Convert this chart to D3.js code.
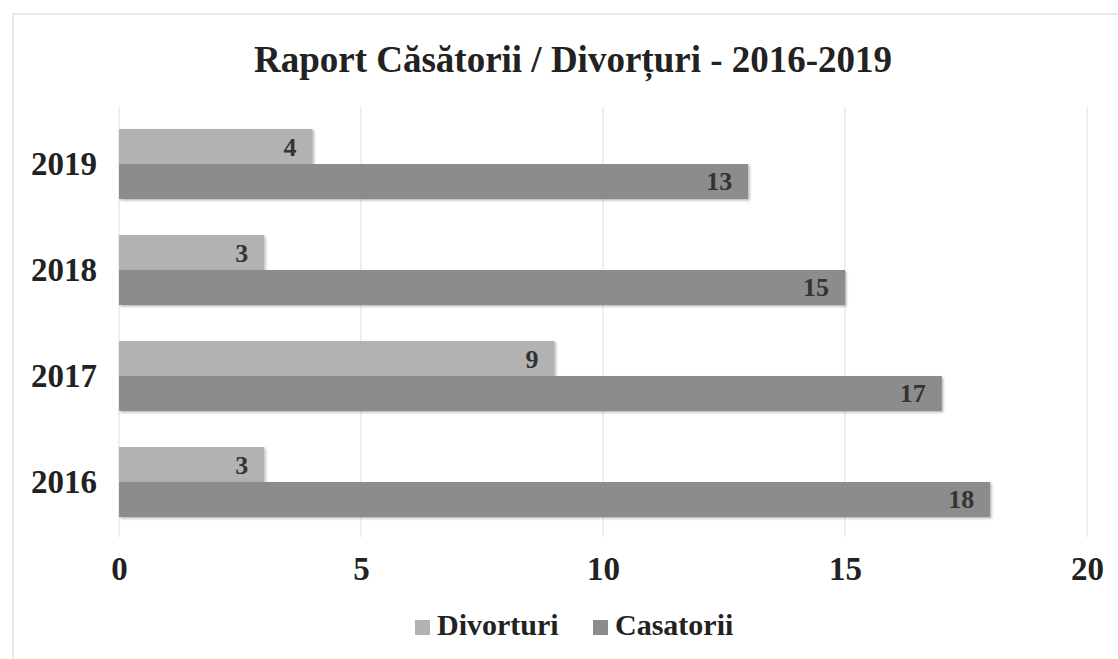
<!DOCTYPE html>
<html>
<head>
<meta charset="utf-8">
<script src="https://cdn.jsdelivr.net/npm/d3@7/dist/d3.min.js"></script>
<style>
  html, body { margin: 0; padding: 0; background: #fff; }
  svg { display: block; }
  text { font-family: "Liberation Serif", "Times New Roman", serif; font-weight: bold; fill: #222; }
</style>
</head>
<body>
<svg id="chart" width="1118" height="659"></svg>
<script>
const title = "Raport Căsătorii / Divorțuri - 2016-2019";
const years = ["2019", "2018", "2017", "2016"];
const seriesNames = ["Divorturi", "Casatorii"];
const divorturi = [4, 3, 9, 3];
const casatorii = [13, 15, 17, 18];
const xTicks = [0, 5, 10, 15, 20];

const colors = { Divorturi: "#b2b2b2", Casatorii: "#8c8c8c" };
const W = 1118, H = 659;
const svg = d3.select("#chart");

const defs = svg.append("defs");
const f = defs.append("filter").attr("id", "sh").attr("x", "-5%").attr("y", "-20%").attr("width", "110%").attr("height", "150%");
f.append("feDropShadow").attr("dx", 1.5).attr("dy", 1.5).attr("stdDeviation", 1.2).attr("flood-color", "#000").attr("flood-opacity", 0.28);

// outer border
svg.append("rect").attr("x", 13).attr("y", 14).attr("width", W + 10).attr("height", H + 10)
  .attr("fill", "none").attr("stroke", "#dcdcdc").attr("stroke-width", 1.2);

const x = d3.scaleLinear().domain([0, 20]).range([119, 1087]);
const y = d3.scaleBand().domain(years).range([111, 535]).paddingInner(0.34).paddingOuter(0.17);
const y1 = d3.scaleBand().domain(seriesNames).range([0, y.bandwidth()]);

// gridlines
svg.append("g").selectAll("line").data(xTicks).join("line")
  .attr("x1", d => x(d)).attr("x2", d => x(d))
  .attr("y1", 107).attr("y2", 537)
  .attr("stroke", "#e4e4e4").attr("stroke-width", 1.2);

// title
svg.append("text").attr("x", 573).attr("y", 72).attr("text-anchor", "middle")
  .style("font-size", "37px").text(title);

const data = years.map((yr, i) => ({ year: yr, Divorturi: divorturi[i], Casatorii: casatorii[i] }));

const groups = svg.append("g").selectAll("g").data(data).join("g")
  .attr("transform", d => `translate(0,${y(d.year)})`);

groups.selectAll("rect").data(d => seriesNames.map(s => ({ s, v: d[s] }))).join("rect")
  .attr("x", x(0)).attr("y", d => y1(d.s))
  .attr("width", d => x(d.v) - x(0)).attr("height", y1.bandwidth())
  .attr("fill", d => colors[d.s]).attr("filter", "url(#sh)");

groups.selectAll("text.val").data(d => seriesNames.map(s => ({ s, v: d[s] }))).join("text")
  .attr("class", "val")
  .attr("x", d => x(d.v) - 16).attr("y", d => y1(d.s) + y1.bandwidth() / 2 + 9)
  .attr("text-anchor", "end").style("font-size", "26px").style("fill", "#333")
  .text(d => d.v);

// category labels
const yAxis = d3.axisLeft(y).tickSize(0).tickPadding(0);
const ya = svg.append("g").attr("transform", "translate(97,0)").call(yAxis);
ya.select(".domain").remove();
ya.selectAll("text").attr("dy", null).attr("y", 11).style("font-size", "33px").style("fill", "#222");

// x tick labels
const xAxis = d3.axisBottom(x).tickValues(xTicks).tickSize(0).tickPadding(0);
const xa = svg.append("g").attr("transform", "translate(0,556)").call(xAxis);
xa.select(".domain").remove();
xa.selectAll("text").attr("dy", null).attr("y", 24).style("font-size", "33px").style("fill", "#222");
[ya, xa].forEach(g => g.attr("font-family", null).attr("font-size", null));

// legend
const legend = svg.append("g");
const legItems = [{ s: "Divorturi", x: 415 }, { s: "Casatorii", x: 593 }];
legItems.forEach(it => {
  legend.append("rect").attr("x", it.x).attr("y", 620).attr("width", 15).attr("height", 15)
    .attr("fill", colors[it.s]);
  legend.append("text").attr("x", it.x + 22).attr("y", 635).style("font-size", "30px").text(it.s);
});
</script>
</body>
</html>
